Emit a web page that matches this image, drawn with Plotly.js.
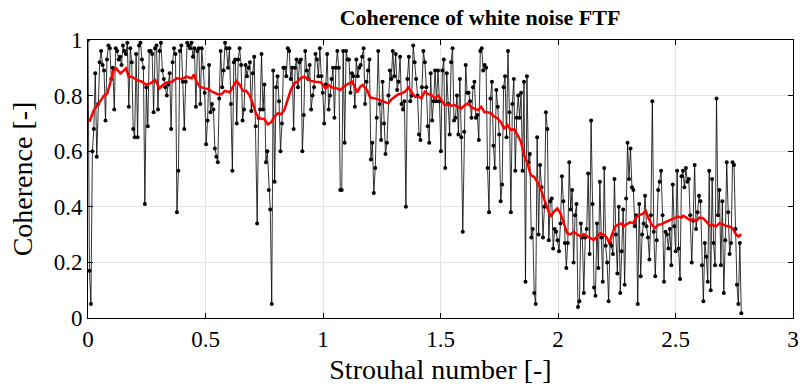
<!DOCTYPE html>
<html>
<head>
<meta charset="utf-8">
<script src="https://cdn.plot.ly/plotly-3.0.1.min.js"></script>
<style>html,body{margin:0;padding:0;background:#fff;}#chart{width:800px;height:391px;}</style>
</head>
<body>
<div id="chart"></div>
<script>
// Raw coherence values (black), read segment by segment, uniform Strouhal grid 0 .. 2.78
const cohSeg1 = [1.0,0.17,0.05,0.6,0.68,0.88,0.58,0.77,0.92,0.96,0.91,0.89,0.71,0.93,0.98,0.97,0.86,0.9,0.75,0.97,0.96,0.93,0.94,0.91,0.98,0.96,0.95,0.99,0.76,0.97,0.92,0.68,0.65,0.95,0.65,0.98,0.99,0.93,0.9,0.41];
const cohSeg2 = [0.83,0.69,0.96,0.96,0.95,0.74,0.97,0.98,0.75,0.96,0.99,0.89,0.86,0.83,0.80,0.84,0.88,0.68,0.92,0.97,0.95,0.38,0.53,0.96,0.98,0.85,0.68,0.85,0.99,0.98,0.97,0.99,0.94,0.97,0.76,0.96,0.97,0.77,0.97,0.9,0.81];
const cohSeg3 = [0.625,0.71,0.91,0.74,0.77,0.75,0.61,0.58,0.56,0.79,0.96,0.83,0.89,0.99,0.97,0.90,0.97,0.77,0.53,0.92,0.93,0.70,0.93,0.97,0.91,0.71,0.75,0.91,0.87,0.90,0.92,0.745,0.88,0.94,0.69,0.34,0.72,0.75,0.95,0.75,0.84];
const cohSeg4 = [0.56,0.60,0.46,0.39,0.05,0.89,0.49,0.83,0.87,0.78,0.60,0.70,0.90,0.90,0.87,0.97,0.96,0.86,0.90,0.68,0.90,0.93,0.83,0.92,0.93,0.60,0.73,0.96,0.89,0.86,0.91,0.75,0.80,0.83,0.95,0.93,0.87,0.97,0.87,0.81,0.70];
const cohSeg5 = [0.84,0.95,0.75,0.80,0.86,0.90,0.72,0.90,0.96,0.90,0.46,0.46,0.96,0.63,0.96,0.93,0.93,0.81,0.88,0.87,0.76,0.93,0.87,0.90,0.91,0.94,0.97,0.77,0.85,0.89,0.93,0.57,0.63,0.45,0.54,0.72,0.96,0.77,0.64,0.85,0.70];
const cohSeg6 = [0.59,0.63,0.80,0.89,0.86,0.96,0.87,0.95,0.82,0.85,0.94,0.77,0.75,0.78,0.40,0.86,0.94,0.78,0.80,0.98,0.92,0.86,0.80,0.66,0.64,0.83,0.96,0.92,0.83,0.69,0.63,0.88,0.71,0.78,0.89,0.78,0.89,0.78,0.60,0.89,0.93];
const cohSeg7 = [0.54,0.88,0.77,0.66,0.92,0.97,0.71,0.72,0.80,0.66,0.86,0.65,0.31,0.67,0.91,0.81,0.81,0.78,0.72,0.83,0.85,0.72,0.73,0.64,0.96,0.97,0.89,0.91,0.90,0.54,0.38,0.79,0.85,0.62,0.54,0.82,0.76,0.66,0.42,0.48,0.83];
const cohSeg8 = [0.87,0.65,0.96,0.74,0.38,0.77,0.86,0.53,0.72,0.80,0.72,0.81,0.53,0.85,0.13,0.87,0.56,0.59,0.29,0.32,0.09,0.05,0.65,0.30,0.55,0.47,0.29,0.40,0.74,0.68,0.28,0.42,0.43,0.25,0.32,0.31,0.28,0.24,0.34,0.51,0.42];
const cohSeg9 = [0.27,0.18,0.27,0.56,0.39,0.46,0.20,0.37,0.41,0.04,0.06,0.34,0.29,0.09,0.29,0.32,0.52,0.23,0.71,0.41,0.11,0.08,0.34,0.18,0.49,0.29,0.13,0.54,0.26,0.20,0.06,0.27,0.26,0.23,0.50,0.30,0.16,0.40,0.09,0.24,0.39];
const cohSeg10 = [0.12,0.43,0.63,0.50,0.61,0.47,0.46,0.33,0.37,0.05,0.41,0.15,0.30,0.34,0.44,0.33,0.29,0.21,0.37,0.78,0.31,0.15,0.28,0.46,0.49,0.53,0.37,0.13,0.31,0.30,0.25,0.32,0.19,0.48,0.33,0.24,0.53,0.25,0.14,0.51,0.53];
const cohSeg11 = [0.47,0.54,0.49,0.50,0.37,0.20,0.35,0.55,0.32,0.38,0.44,0.42,0.19,0.06,0.27,0.22,0.13,0.53,0.10,0.50,0.27,0.19,0.79,0.37,0.46,0.19,0.42,0.09,0.28,0.56,0.38,0.23,0.27,0.56,0.55,0.32,0.12,0.05,0.27,0.017];
const stMax = 2.78;

// Smoothed coherence (red)
const smoothSt = [0.006,0.025,0.046,0.068,0.082,0.096,0.11,0.12,0.138,0.149,0.162,0.173,0.187,0.208,0.23,0.245,
0.265,0.286,0.304,0.318,0.335,0.357,0.378,0.399,0.42,0.441,0.451,0.462,0.476,0.497,
0.511,0.532,0.553,0.568,0.582,0.603,0.617,0.631,0.645,0.659,0.673,0.687,0.701,0.715,0.729,0.75,
0.765,0.779,0.793,0.807,0.821,0.835,0.849,0.863,0.877,0.891,0.905,0.919,0.934,0.948,0.969,0.99,
1.011,1.025,1.039,1.06,1.074,1.088,1.102,1.124,1.138,1.145,1.159,1.169,1.187,1.201,1.222,1.243,
1.264,1.278,1.293,1.307,1.321,1.335,1.349,1.363,1.377,1.391,1.405,1.419,1.433,1.448,1.462,1.476,1.49,1.504,
1.518,1.532,1.546,1.56,1.574,1.588,1.602,1.616,1.63,1.645,1.659,1.673,1.687,1.701,1.715,1.729,1.743,1.757,
1.771,1.785,1.799,1.813,1.828,1.842,1.856,1.87,1.884,1.898,1.912,1.926,1.94,1.954,1.968,1.982,1.997,2.011,
2.025,2.039,2.053,2.067,2.081,2.096,2.11,2.124,2.138,2.152,2.166,2.18,2.194,2.208,2.219,2.229,2.243,2.257,2.273,
2.278,2.292,2.306,2.32,2.335,2.349,2.363,2.374,2.384,2.398,2.412,2.426,2.44,2.454,2.468,2.483,2.497,2.511,2.526,
2.532,2.546,2.56,2.574,2.588,2.602,2.617,2.631,2.645,2.659,2.673,2.687,2.701,2.715,2.729,2.743,2.757,2.769,2.78];
const smoothCoh = [0.706,0.748,0.772,0.80,0.808,0.85,0.892,0.898,0.88,0.888,0.898,0.868,0.868,0.856,0.85,0.84,
0.844,0.856,0.826,0.838,0.847,0.85,0.862,0.86,0.868,0.862,0.876,0.85,0.832,0.826,
0.824,0.812,0.805,0.805,0.817,0.812,0.832,0.853,0.84,0.817,0.817,0.802,0.772,0.736,0.718,0.716,
0.697,0.704,0.724,0.736,0.733,0.748,0.784,0.82,0.844,0.85,0.862,0.868,0.862,0.853,0.85,0.848,
0.826,0.838,0.829,0.826,0.82,0.832,0.84,0.85,0.826,0.812,0.832,0.838,0.82,0.793,0.79,0.784,
0.778,0.772,0.788,0.796,0.805,0.808,0.814,0.829,0.812,0.796,0.796,0.79,0.814,0.805,0.802,0.79,0.80,0.784,
0.766,0.769,0.764,0.766,0.76,0.754,0.764,0.772,0.76,0.752,0.748,0.76,0.74,0.74,0.736,0.724,0.718,0.704,
0.682,0.694,0.676,0.68,0.658,0.634,0.586,0.556,0.514,0.508,0.49,0.466,0.43,0.394,0.364,0.382,0.394,0.376,
0.34,0.305,0.301,0.31,0.301,0.293,0.301,0.293,0.287,0.281,0.293,0.305,0.299,0.289,0.269,0.299,0.329,0.337,0.34,
0.329,0.337,0.344,0.341,0.365,0.371,0.376,0.385,0.361,0.337,0.323,0.335,0.337,0.344,0.349,0.356,0.359,0.365,0.361,
0.368,0.361,0.353,0.356,0.349,0.361,0.359,0.347,0.332,0.335,0.329,0.341,0.335,0.332,0.329,0.323,0.301,0.293,0.301];

const xTickVals = [0,0.5,1,1.5,2,2.5,3];
const xTickText = ['0','0.5','1','1.5','2','2.5','3'];
const yTickVals = [0,0.2,0.4,0.6,0.8,1];
const yTickText = ['0','0.2','0.4','0.6','0.8','1'];

const coh = [].concat(cohSeg1,cohSeg2,cohSeg3,cohSeg4,cohSeg5,cohSeg6,cohSeg7,cohSeg8,cohSeg9,cohSeg10,cohSeg11);
const st = coh.map((_, i) => i * stMax / (coh.length - 1));

const FONT = '"Liberation Serif", "DejaVu Serif", serif';

const traces = [
  {x: st, y: coh, type: 'scatter', mode: 'lines+markers',
   line: {color: '#000000', width: 0.8},
   marker: {color: '#000000', size: 4}, hoverinfo: 'skip'},
  {x: smoothSt, y: smoothCoh, type: 'scatter', mode: 'lines',
   line: {color: '#ff0000', width: 2.5}, hoverinfo: 'skip'}
];

const axisCommon = {
  showline: true, linecolor: '#000', linewidth: 1, mirror: 'ticks',
  ticks: 'inside', ticklen: 5, tickcolor: '#000', tickwidth: 1,
  showgrid: true, gridcolor: '#e3e3e3', gridwidth: 1, zeroline: false,
  ticklabeloverflow: 'allow',
  tickfont: {family: FONT, size: 23, color: '#000'}
};

const layout = {
  width: 800, height: 391,
  margin: {l: 88, r: 7, t: 40, b: 73},
  paper_bgcolor: '#fff', plot_bgcolor: '#fff',
  showlegend: false,
  title: {text: '<b>Coherence of white noise FTF</b>', x: 0.6, xanchor: 'center', y: 0.955, yanchor: 'middle',
          font: {family: FONT, size: 22, color: '#000'}},
  xaxis: Object.assign({}, axisCommon, {
    range: [0, 3], tickvals: xTickVals, ticktext: xTickText,
    automargin: false,
    title: {text: 'Strouhal number [-]', font: {family: FONT, size: 28, color: '#000'}, standoff: 8}
  }),
  yaxis: Object.assign({}, axisCommon, {
    range: [0, 1], tickvals: yTickVals, ticktext: yTickText,
    automargin: false,
    title: {text: 'Coherence [-]', font: {family: FONT, size: 28, color: '#000'}, standoff: 12}
  })
};

Plotly.newPlot('chart', traces, layout, {displayModeBar: false, staticPlot: true});
</script>
</body>
</html>
